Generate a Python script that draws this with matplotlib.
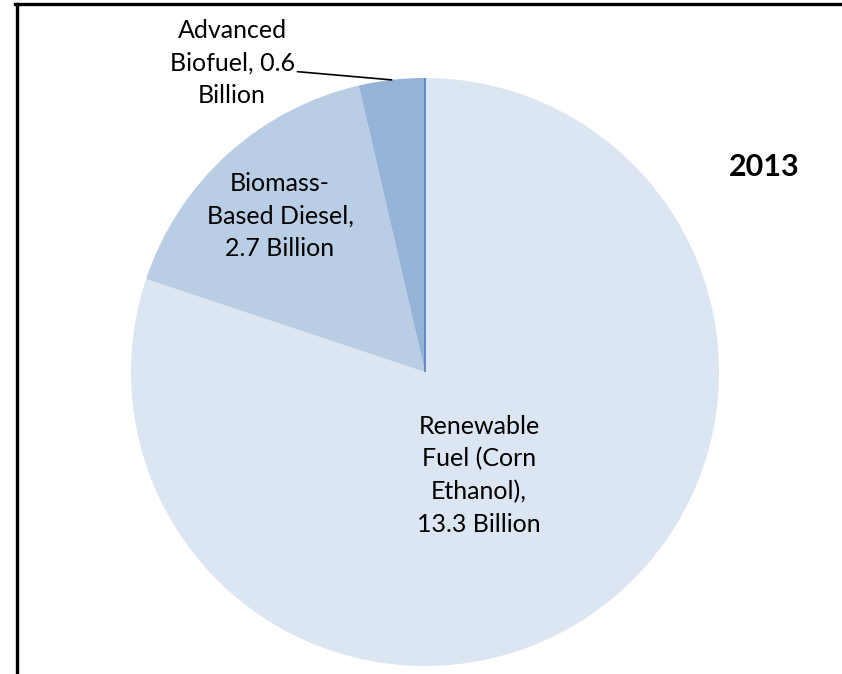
import numpy as np
import matplotlib.pyplot as plt
from matplotlib.lines import Line2D

categories = ["Renewable\nFuel (Corn\nEthanol),\n13.3 Billion",
              "Biomass-\nBased Diesel,\n2.7 Billion",
              "Advanced\nBiofuel, 0.6\nBillion"]
values = [13.3, 2.7, 0.6]
colors = ["#DCE6F2", "#B9CDE5", "#95B3D7"]
year = "2013"

plt.rcParams['font.family'] = ['Lato', 'DejaVu Sans']

W, H = 842, 674
fig = plt.figure(figsize=(W / 100, H / 100), dpi=100)
cx, cy, r = 425, 372, 294
ax = fig.add_axes([(cx - r) / W, (H - cy - r) / H, 2 * r / W, 2 * r / H])

wedges, _ = ax.pie(values, colors=colors, startangle=90, counterclock=False,
                   radius=1, wedgeprops=dict(linewidth=0))
ax.set_xlim(-1, 1)
ax.set_ylim(-1, 1)
ax.set_aspect('equal')
ax.axis('off')

# dark line at the start of the first slice
t0 = np.deg2rad(wedges[0].theta2)
ax.plot([0, np.cos(t0)], [0, np.sin(t0)], color="#4F81BD", lw=1.2, solid_capstyle='butt')

fs = 18
ls = 1.5
ax.text(0.184, -0.352, categories[0], ha='center', va='center', fontsize=fs, linespacing=ls)
ax.text(-0.493, 0.531, categories[1], ha='center', va='center', fontsize=fs, linespacing=ls)

w = wedges[2]
tm = np.deg2rad((w.theta1 + w.theta2) / 2)
ax.annotate(categories[2], xy=(np.cos(tm), np.sin(tm)), xytext=(-0.656, 1.051),
            textcoords='data', ha='center', va='center', fontsize=fs, linespacing=ls,
            annotation_clip=False,
            arrowprops=dict(arrowstyle='-', color='black', lw=1.2,
                            shrinkA=0, shrinkB=0,
                            connectionstyle='angle,angleA=0,angleB=-5,rad=0',
                            relpos=(0.93, 0.5)))

ax.text(1.153, 0.697, year, ha='center', va='center', fontsize=22, fontweight='bold')

# chart frame
fig.add_artist(Line2D([15 / W, 1], [1 - 4 / H, 1 - 4 / H], color='black', lw=2.4))
fig.add_artist(Line2D([16.5 / W, 16.5 / W], [0, 1 - 4 / H], color='black', lw=2.4))

fig.savefig("out.png", dpi=100)
